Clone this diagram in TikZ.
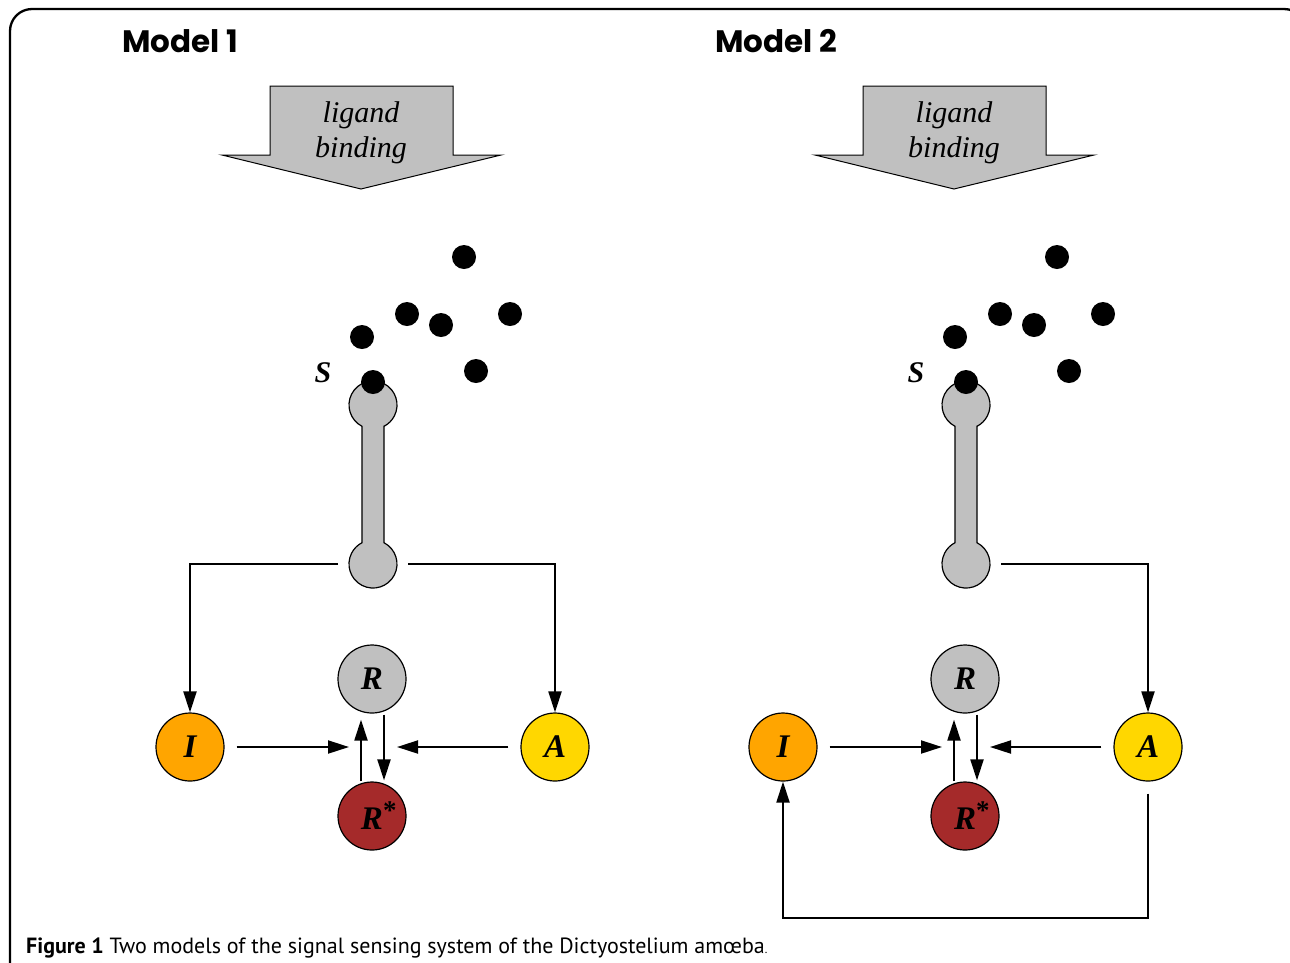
\documentclass[tikz,border=0pt]{standalone}
\usepackage{fontspec}
\setmainfont{Liberation Serif}
\newfontfamily\titlefont{Poppins}
\newfontfamily\capfont{PT Sans}
\usetikzlibrary{arrows.meta}
\definecolor{recgray}{HTML}{C0C0C0}
\definecolor{iorange}{HTML}{FFA500}
\definecolor{agold}{HTML}{FFD700}
\definecolor{rstar}{HTML}{A52A2A}
\begin{document}
\begin{tikzpicture}[x=1pt,y=-1pt,
  conn/.style={line width=2pt, -{Triangle[length=21pt,width=13pt]}},
  mol/.style={circle, draw=black, line width=1.2pt, minimum size=68pt, inner sep=0pt,
    font=\fontsize{33}{33}\selectfont\bfseries\itshape},
  ligdot/.style={circle, fill=black, minimum size=24pt, inner sep=0pt},
  bigarrow/.style={fill=recgray, draw=black, line width=1pt},
  receptor/.style={fill=recgray, draw=black, line width=1.2pt},
  ligtext/.style={font=\fontsize{30}{30}\selectfont\itshape, inner sep=0pt, anchor=base},
  slabel/.style={font=\fontsize{30}{30}\selectfont\bfseries\itshape, inner sep=0pt},
  title/.style={font=\titlefont\bfseries\fontsize{31}{31}\selectfont, inner sep=0pt, anchor=base west},
  caption/.style={font=\capfont\fontsize{22}{22}\selectfont, inner sep=0pt, anchor=base west}
]
\useasboundingbox (0,0) rectangle (1290,962);
% frame
\draw[line width=2.3pt, rounded corners=22pt] (10,1020) -- (10,9) -- (1306,9) -- (1306,1020);

\foreach \m/\dx in {1/0, 2/593} {
  \begin{scope}[xshift=\dx pt]
    % ligand binding arrow
    \draw[bigarrow] (270,86) -- (453,86) -- (453,155) -- (501,155) -- (361,189) -- (222,155) -- (270,155) -- cycle;
    \node[ligtext] (liga\m) at (361,122) {ligand};
    \node[ligtext] (ligb\m) at (361,157) {binding};
    % free ligands
    \node[ligdot] (d1\m) at (464,257) {};
    \node[ligdot] (d2\m) at (407,314) {};
    \node[ligdot] (d3\m) at (441,325) {};
    \node[ligdot] (d4\m) at (510,314) {};
    \node[ligdot] (d5\m) at (362,337) {};
    \node[ligdot] (d6\m) at (476,371) {};
    % receptor
    \filldraw[receptor] (384,426.3) -- (384,542.7) arc[start angle=-62.7, end angle=242.7, radius=24]
      -- (362,426.3) arc[start angle=117.3, end angle=422.7, radius=24] -- cycle;
    \coordinate (rb\m) at (373,564);
    \node[ligdot] (S\m) at (373,382) {};
    \node[slabel] (Slab\m) at (323,373) {S};
    % molecules
    \node[mol, fill=recgray] (R\m) at (372,679) {R};
    \node[mol, fill=iorange] (I\m) at (190,747) {I};
    \node[mol, fill=agold] (A\m) at (555,747) {A};
    \node[mol, fill=rstar] (Rs\m) at (372,816) {R\rlap{\raisebox{10pt}{\fontsize{27}{27}\selectfont\bfseries\upshape *}}};
    \coordinate (mL\m) at (349,747);
    \coordinate (mR\m) at (397,747);
    \draw[conn] ([xshift=12pt]I\m.east) -- (mL\m);
    \draw[conn] ([xshift=-12pt]A\m.west) -- (mR\m);
    \draw[conn] ([xshift=-11pt]Rs\m.north) -- ([xshift=-11pt,yshift=-6pt]R\m.south);
    \draw[conn] ([xshift=12pt,yshift=-1pt]R\m.south) -- ([xshift=12pt,yshift=1pt]Rs\m.north);
    \draw[conn] ([xshift=35pt]rb\m) -| (A\m.north);
  \end{scope}
}
\node[title] (t1) at (122,52) {Model 1};
\node[title] (t2) at (715,52) {Model 2};
% model 1 only: receptor to I
\draw[conn] ([xshift=-35pt]rb1) -| (I1.north);
% model 2 only: feedback A -> I
\coordinate (fb2) at (1148,918);
\draw[conn] ([yshift=-12pt]A2.south) -- (fb2) -| (I2.south);
\node[caption] (cap) at (26,953) {\textbf{Figure 1} Two models of the signal sensing system of the Dictyostelium am\oe ba\fontsize{12}{12}\selectfont.};
\end{tikzpicture}
\end{document}
